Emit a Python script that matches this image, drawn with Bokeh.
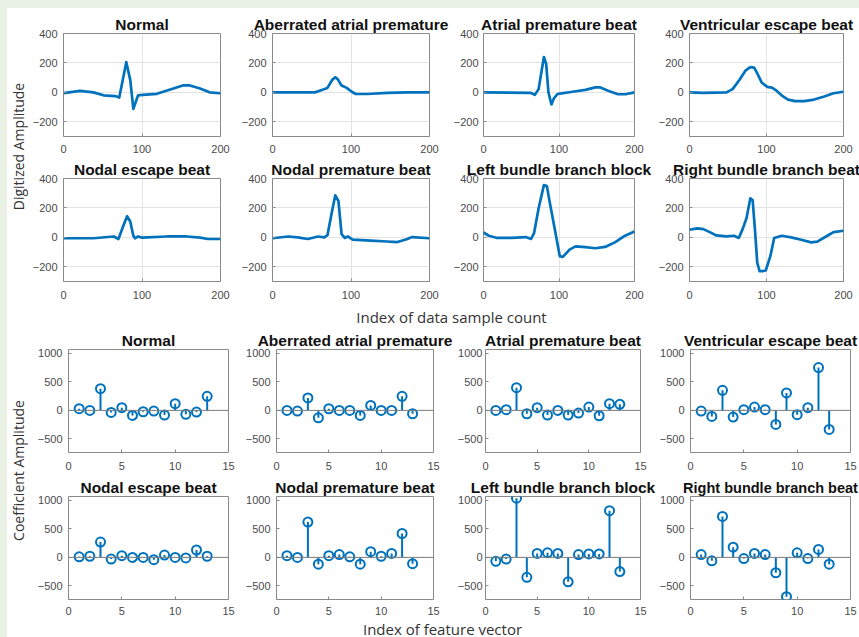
import math
from bokeh.plotting import figure
from bokeh.layouts import row, column
from bokeh.models import Range1d, FixedTicker, Span, Label
from bokeh.embed import file_html
from bokeh.resources import INLINE

# ---------------- data ----------------
titles = ["Normal", "Aberrated atrial premature", "Atrial premature beat", "Ventricular escape beat",
          "Nodal escape beat", "Nodal premature beat", "Left bundle branch block", "Right bundle branch beat"]

normal_x = [0, 21, 38, 51, 66, 71, 80, 85, 89, 95, 101, 119, 136, 152, 161, 174, 186, 200]
normal_y = [-5, 10, 0, -20, -25, -35, 205, 85, -112, -20, -17, -10, 20, 47, 47, 26, 0, -6]

aberr_x = [0, 54, 62, 70, 76, 80, 83, 88, 94, 101, 106, 121, 146, 172, 200]
aberr_y = [0, 0, 15, 30, 85, 103, 90, 47, 32, 4, -11, -11, -4, 0, 0]

atrial_x = [0, 63, 68, 73, 80, 83, 86, 90, 93, 98, 101, 118, 135, 148, 154, 165, 178, 188, 200]
atrial_y = [0, -4, -17, 22, 240, 193, 0, -82, -43, -11, -9, 4, 17, 34, 34, 11, -13, -13, 0]

ventr_x = [0, 18, 48, 56, 65, 73, 79, 84, 88, 94, 101, 107, 113, 120, 128, 137, 149, 162, 175, 187, 200]
ventr_y = [0, -4, 0, 22, 86, 150, 172, 168, 129, 65, 37, 32, 11, -22, -49, -60, -60, -49, -28, -6, 4]

nodesc_x = [0, 21, 38, 64, 70, 76, 81, 85, 89, 91, 95, 100, 131, 157, 174, 184, 200]
nodesc_y = [-6, -6, -6, 6, -11, 75, 144, 108, 11, -6, 6, -2, 6, 6, -2, -11, -11]

nodprem_x = [0, 20, 32, 45, 58, 66, 70, 76, 80, 84, 88, 92, 96, 102, 125, 146, 159, 170, 178, 200]
nodprem_y = [-6, 6, 0, -11, 6, 0, 15, 183, 286, 247, 22, -4, 6, -15, -22, -28, -32, -15, 2, -6]

lbbb_x = [0, 7, 18, 37, 56, 63, 67, 73, 80, 84, 88, 95, 101, 105, 114, 122, 135, 148, 161, 174, 186, 200]
lbbb_y = [34, 11, -4, -4, 2, -11, 29, 198, 355, 348, 231, 40, -128, -133, -83, -61, -67, -74, -65, -34, 7, 40]

rbbb_x = [0, 10, 18, 27, 35, 48, 58, 64, 69, 74, 79, 82, 85, 88, 91, 96, 99, 105, 110, 120, 132, 145, 158, 166, 179, 187, 200]
rbbb_y = [52, 61, 56, 34, 13, 7, 11, -4, 56, 130, 265, 254, 52, -173, -229, -229, -225, -128, -4, 11, 0, -16, -34, -29, 11, 36, 45]

feature_index = [1, 2, 3, 4, 5, 6, 7, 8, 9, 10, 11, 12, 13]
coef_normal = [30, 0, 382, -35, 47, -88, -24, -12, -82, 118, -70, -30, 247]
coef_aberr = [0, -12, 218, -130, 29, 0, 0, -88, 88, 0, 0, 247, -59]
coef_atrial = [0, 12, 400, -59, 47, -82, 0, -82, -47, 59, -94, 118, 106]
coef_ventr = [-12, -106, 353, -118, 12, 59, 12, -247, 306, -76, 47, 753, -335]
coef_nodesc = [10, 20, 270, -30, 30, 0, 0, -40, 40, 0, -10, 130, 20]
coef_nodprem = [30, 0, 620, -120, 30, 50, 10, -120, 100, 20, 70, 420, -110]
coef_lbbb = [-70, -30, 1040, -350, 70, 80, 70, -430, 50, 60, 60, 820, -250]
coef_rbbb = [50, -60, 720, 180, -20, 70, 50, -270, -690, 80, -20, 140, -120]

ecg_xticks = [0, 100, 200]
ecg_yticks = [-200, 0, 200, 400]
coef_xticks = [0, 5, 10, 15]
coef_yticks = [-500, 0, 500, 1000]

# ---------------- style ----------------
BLUE = "#0072BD"
TICK_FONT = "Liberation Sans"
TITLE_FONT = "Liberation Sans"
LABEL_FONT = "Open Sans"


def make_panel(title, width, height, left, right, top, bottom, xr, yr, xt, yt, grid, xstand, ystand,
               title_size="15.5px"):
    p = figure(width=width, height=height, x_range=Range1d(*xr), y_range=Range1d(*yr),
               output_backend="svg", toolbar_location=None, title=title,
               min_border_left=left, min_border_right=right,
               min_border_top=top, min_border_bottom=bottom,
               background_fill_color="white", border_fill_color="white",
               outline_line_color="#8a8a8a", outline_line_width=1)
    p.title.align = "center"
    p.title.text_font = TITLE_FONT
    p.title.text_font_size = title_size
    p.title.text_font_style = "bold"
    p.title.text_color = "#111111"
    p.title.standoff = 1
    p.xaxis.ticker = FixedTicker(ticks=xt)
    p.yaxis.ticker = FixedTicker(ticks=yt)
    for ax in (p.xaxis[0], p.yaxis[0]):
        ax.axis_line_color = None
        ax.major_tick_in = 3
        ax.major_tick_out = 0
        ax.minor_tick_in = 0
        ax.minor_tick_out = 0
        ax.major_tick_line_color = "#8a8a8a"
        ax.major_label_text_font = TICK_FONT
        ax.major_label_text_font_size = "11px"
        ax.major_label_text_color = "#4a4a4a"
    p.xaxis.major_label_standoff = xstand
    p.yaxis.major_label_standoff = ystand
    if grid:
        p.xgrid.ticker = FixedTicker(ticks=xt)
        p.ygrid.ticker = FixedTicker(ticks=yt)
        p.grid.grid_line_color = "#e3e3e3"
        p.grid.grid_line_width = 1
    else:
        p.grid.visible = False
    return p


ecg_x = [normal_x, aberr_x, atrial_x, ventr_x, nodesc_x, nodprem_x, lbbb_x, rbbb_x]
ecg_y = [normal_y, aberr_y, atrial_y, ventr_y, nodesc_y, nodprem_y, lbbb_y, rbbb_y]
coefs = [coef_normal, coef_aberr, coef_atrial, coef_ventr, coef_nodesc, coef_nodprem, coef_lbbb, coef_rbbb]

# column geometry: (width, left border, right border, y label standoff)
ecg_cols = [(210, 35, 18, 6), (212, 33, 21, 6), (205, 28, 21, 5), (204, 31, 16, 6)]
coef_cols = [(212, 40, 12, 6), (214, 36, 21, 6), (201, 28, 15, 3), (204, 35, 9, 6)]
# row geometry: (height, top border, bottom border, x tick label standoff)
ecg_rows = [(149, 25, 21, 8), (150, 21, 26, 9)]
coef_rows = [(149, 23, 23, 9), (144, 21, 20, 7)]

ecg_rows_layout = []
for r in range(2):
    figs = []
    h, t, b, s = ecg_rows[r]
    for c in range(4):
        k = r * 4 + c
        w, l, rr, ys = ecg_cols[c]
        p = make_panel(titles[k], w, h, l, rr, t, b, (0, 200), (-300, 400), ecg_xticks, ecg_yticks,
                       True, s, ys)
        p.line(ecg_x[k], ecg_y[k], line_color=BLUE, line_width=2.7, line_join="round")
        figs.append(p)
    ecg_rows_layout.append(row(*figs))

coef_rows_layout = []
for r in range(2):
    figs = []
    h, t, b, s = coef_rows[r]
    for c in range(4):
        k = r * 4 + c
        w, l, rr, ys = coef_cols[c]
        tsize = "14.5px" if k == 7 else "15.5px"
        p = make_panel(titles[k], w, h, l, rr, t, b, (0, 15), (-740, 1070), coef_xticks, coef_yticks,
                       False, s, ys, tsize)
        p.add_layout(Span(location=0, dimension="width", line_color="#7a7a7a", line_width=1))
        p.segment(x0=feature_index, y0=[0] * len(feature_index), x1=feature_index, y1=coefs[k],
                  line_color=BLUE, line_width=2)
        p.scatter(feature_index, coefs[k], marker="circle", size=9, fill_color=None,
                  line_color=BLUE, line_width=2)
        figs.append(p)
    coef_rows_layout.append(row(*figs))


def strip(width, height):
    s = figure(width=width, height=height, x_range=Range1d(0, width), y_range=Range1d(height, 0),
               x_axis_type=None, y_axis_type=None, output_backend="svg", toolbar_location=None,
               min_border=0, min_border_left=0, min_border_right=0, min_border_top=0, min_border_bottom=0,
               outline_line_color=None, background_fill_color="white", border_fill_color="white")
    s.grid.visible = False
    return s


xlab1 = strip(831, 19)
xlab1.add_layout(Label(x=423, y=9, text="Index of data sample count", text_align="center",
                       text_baseline="middle", text_font=LABEL_FONT, text_font_size="15px",
                       text_color="#333333"))
xlab2 = strip(831, 18)
xlab2.add_layout(Label(x=414, y=9, text="Index of feature vector", text_align="center",
                       text_baseline="middle", text_font=LABEL_FONT, text_font_size="15px",
                       text_color="#333333"))

ylab = strip(21, 629)
ylab.add_layout(Label(x=11, y=138, text="Digitized Amplitude", angle=math.pi / 2, text_align="center",
                      text_baseline="middle", text_font=LABEL_FONT, text_font_size="14px",
                      text_color="#333333"))
ylab.add_layout(Label(x=11, y=462, text="Coefficient Amplitude", angle=math.pi / 2, text_align="center",
                      text_baseline="middle", text_font=LABEL_FONT, text_font_size="14px",
                      text_color="#333333"))

p = row(ylab, column(ecg_rows_layout[0], ecg_rows_layout[1], xlab1,
                     coef_rows_layout[0], coef_rows_layout[1], xlab2))

css = ("<style>body{padding:8px 0 0 7px !important;"
       "background:linear-gradient(to right,#e9f1e5 7px,rgba(255,255,255,0) 7px),"
       "linear-gradient(to bottom,#e9f1e5 8px,#ffffff 8px) !important;}</style>")
open("out.html", "w").write(file_html(p, INLINE).replace("</head>", css + "</head>", 1))
